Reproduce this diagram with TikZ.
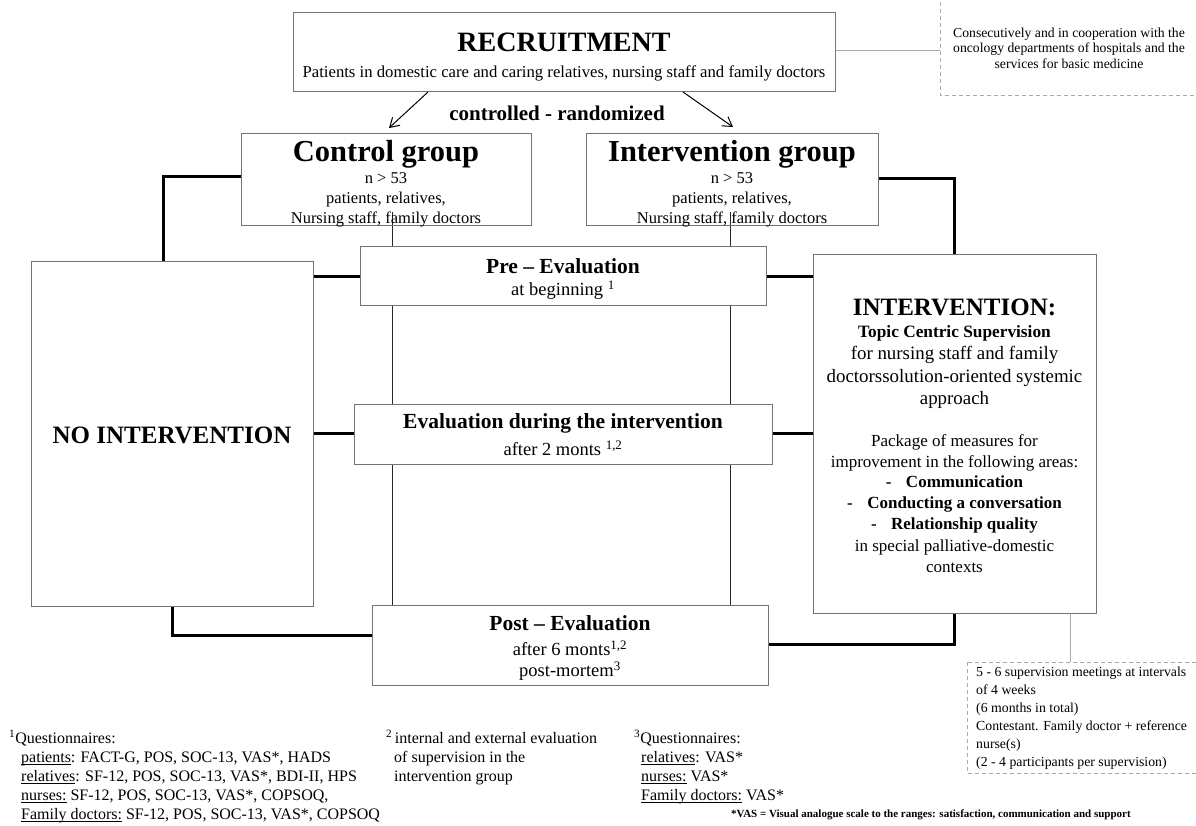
\documentclass[tikz,border=0pt]{standalone}
\usepackage{fontspec}
\setmainfont{Liberation Serif}
\usetikzlibrary{arrows.meta}
\definecolor{boxgray}{RGB}{115,115,115}
\definecolor{lgray}{RGB}{170,170,170}
\definecolor{dgray}{RGB}{40,40,40}
\newcommand{\fs}[2]{\fontsize{#1}{#2}\selectfont}
\newcommand{\ul}[1]{\underline{\smash{#1}}}
\begin{document}
\begin{tikzpicture}[x=1pt,y=-1pt,
  box/.style={draw=boxgray, line width=1pt, fill=white, inner sep=0pt},
  openbox/.style={draw=boxgray, line width=1pt, inner sep=0pt},
  thickline/.style={line width=3pt, line join=miter},
  thinline/.style={line width=1pt, draw=dgray},
  grayline/.style={line width=1pt, draw=lgray},
  dashbox/.style={draw=lgray, line width=1pt, dash pattern=on 4pt off 3pt},
  txt/.style={inner sep=0pt, align=center},
  ltxt/.style={inner sep=0pt, align=left, anchor=north west},
  arr/.style={line width=1pt, -{Straight Barb[length=9pt,width=11pt]}}
]
\path[use as bounding box, fill=white] (0,0) rectangle (1196,825);

% thin vertical lines (behind)
\coordinate (c1) at (392,212);
\coordinate (c2) at (730,212);
\coordinate (p1) at (392,605);
\coordinate (p2) at (730,605);
\draw[thinline] (c1) -- (p1);
\draw[thinline] (c2) -- (p2);

% boxes
\node[box, minimum width=542, minimum height=79] (rec) at (564,51.5) {};
\node[openbox, minimum width=290, minimum height=92] (ctrl) at (386,179) {};
\node[openbox, minimum width=292, minimum height=92] (intg) at (732,179) {};
\node[box, minimum width=406, minimum height=59] (pre) at (563,275.5) {};
\node[box, minimum width=418, minimum height=60] (eval) at (563,434) {};
\node[box, minimum width=396, minimum height=80] (post) at (570,645) {};
\node[box, minimum width=282, minimum height=345] (noint) at (172,433.5) {};
\node[box, minimum width=283, minimum height=359] (intv) at (954.5,433.5) {};

% dashed boxes
\draw[dashbox] (940,-5) rectangle (1205,95);
\coordinate (d1) at (940,50);
\draw[dashbox] (967,662) rectangle (1205,773);
\coordinate (d2) at (1070,662);

% gray connectors
\draw[grayline] (rec.east |- d1) -- (d1);
\draw[grayline] (intv.south -| d2) -- (d2);

% arrows
\coordinate (a1s) at (428,92);
\coordinate (a1e) at (389,128);
\coordinate (a2s) at (683,92);
\coordinate (a2e) at (733,127);
\draw[arr] (a1s) -- (a1e);
\draw[arr] (a2s) -- (a2e);

% thick connectors
\draw[thickline] (ctrl.west |- 0,176) -| (noint.north -| 163,0);
\draw[thickline] (intg.east |- 0,178) -| (intv.north -| 954,0);
\draw[thickline] (noint.east |- 0,276) -- (pre.west |- 0,276);
\draw[thickline] (pre.east |- 0,276) -- (intv.west |- 0,276);
\draw[thickline] (noint.east |- 0,433) -- (eval.west |- 0,433);
\draw[thickline] (eval.east |- 0,433) -- (intv.west |- 0,433);
\draw[thickline] (noint.south -| 172,0) |- (post.west |- 0,635);
\draw[thickline] (intv.south -| 954,0) |- (post.east |- 0,644);

% texts
\node[txt, font=\fs{28}{30}\bfseries] (rect) at (564,42) {RECRUITMENT};
\node[txt, font=\fs{16.7}{18}] (recs) at (564,73) {Patients in domestic care and caring relatives, nursing staff and family doctors};
\node[txt, font=\fs{21}{23}\bfseries] (cr) at (557,113) {controlled - randomized};

\node[txt, font=\fs{30.5}{32}\bfseries] (ctrlt) at (386,154) {Control group};
\node[txt, font=\fs{16.5}{20}] (ctrls) at (386,200) {n \textgreater{} 53\\patients, relatives,\\Nursing staff, family doctors};
\node[txt, font=\fs{30.5}{32}\bfseries] (intgt) at (732,154) {Intervention group};
\node[txt, font=\fs{16.5}{20}] (intgs) at (732,200) {n \textgreater{} 53\\patients, relatives,\\Nursing staff, family doctors};

\node[txt, font=\fs{21.5}{23}\bfseries] (pret) at (563,266) {Pre -- Evaluation};
\node[txt, font=\fs{18.5}{20}] (pres) at (563,290) {at beginning \textsuperscript{1}};
\node[txt, font=\fs{21.5}{23}\bfseries] (evalt) at (563,423) {Evaluation during the intervention};
\node[txt, font=\fs{18.5}{20}] (evals) at (563,448) {after 2 monts \textsuperscript{1,2}};
\node[txt, font=\fs{21.5}{23}\bfseries] (postt) at (570,623) {Post -- Evaluation};
\node[txt, font=\fs{18.5}{20}] (posts1) at (570,648) {after 6 monts\textsuperscript{1,2}};
\node[txt, font=\fs{18.5}{20}] (posts2) at (570,671) {post-mortem\textsuperscript{3}};

\node[txt, font=\fs{25}{27}\bfseries] (nointt) at (172,435) {NO INTERVENTION};

\node[txt, font=\fs{25}{27}\bfseries] (iv1) at (954.5,307) {INTERVENTION:};
\node[txt, font=\fs{17.3}{19}\bfseries] (iv2) at (954.5,333) {Topic Centric Supervision};
\node[txt, font=\fs{18.9}{22.5}] (iv3) at (954.5,377.5) {for nursing staff and family\\doctorssolution-oriented systemic\\approach};
\node[txt, font=\fs{17}{21}] (iv4) at (954.5,452.5) {Package of measures for\\improvement in the following areas:};
\node[txt, font=\fs{17}{21}\bfseries] (iv5) at (954.5,504) {-\hspace{0.85em}Communication\\-\hspace{0.85em}Conducting a conversation\\-\hspace{0.85em}Relationship quality};
\node[txt, font=\fs{17}{21}] (iv6) at (954.5,556) {in special palliative-domestic\\contexts};

\node[txt, font=\fs{13.7}{15.5}] (dt1) at (1069,48) {Consecutively and in cooperation with the\\oncology departments of hospitals and the\\services for basic medicine};
\node[ltxt, font=\fs{13.8}{18}] (dt2) at (976,667) {5 - 6 supervision meetings at intervals\\of 4 weeks\\(6 months in total)\\Contestant. Family doctor + reference\\nurse(s)\\(2 - 4 participants per supervision)};

% footnotes
\node[ltxt, font=\fs{16}{18.9}] (fn1) at (9,730) {\textsuperscript{1}Questionnaires:\\
\hspace*{12pt}\ul{patients}: FACT-G, POS, SOC-13, VAS*, HADS\\
\hspace*{12pt}\ul{relatives}: SF-12, POS, SOC-13, VAS*, BDI-II, HPS\\
\hspace*{12pt}\ul{nurses:} SF-12, POS, SOC-13, VAS*, COPSOQ,\\
\hspace*{12pt}\ul{Family doctors:} SF-12, POS, SOC-13, VAS*, COPSOQ};
\node[ltxt, font=\fs{16}{18.9}] (fn2) at (386,730) {\textsuperscript{2}\,internal and external evaluation\\
\hspace*{8pt}of supervision in the\\
\hspace*{8pt}intervention group};
\node[ltxt, font=\fs{16}{18.9}] (fn3) at (634,730) {\textsuperscript{3}Questionnaires:\\
\hspace*{7pt}\ul{relatives}: VAS*\\
\hspace*{7pt}\ul{nurses:} VAS*\\
\hspace*{7pt}\ul{Family doctors:} VAS*};
\node[txt, font=\fs{11}{13}\bfseries] (vas) at (931,815) {*VAS = Visual analogue scale to the ranges: satisfaction, communication and support};
\end{tikzpicture}
\end{document}
